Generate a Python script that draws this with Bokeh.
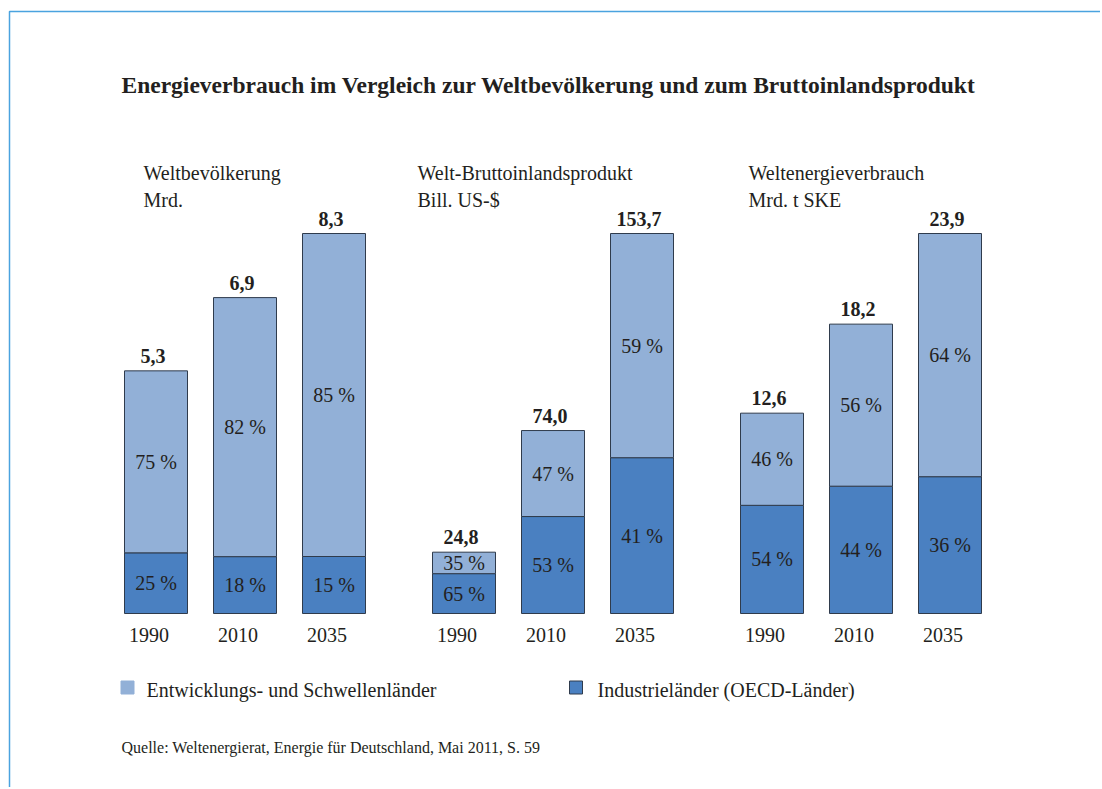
from bokeh.plotting import figure
from bokeh.models import Range1d, ColumnDataSource
from bokeh.core.properties import value
from bokeh.embed import file_html
from bokeh.resources import INLINE

# ---------------- data ----------------
title_text = "Energieverbrauch im Vergleich zur Weltbevölkerung und zum Bruttoinlandsprodukt"
years = ["1990", "2010", "2035"]
panel_titles = ["Weltbevölkerung", "Welt-Bruttoinlandsprodukt", "Weltenergieverbrauch"]
panel_units = ["Mrd.", "Bill. US-$", "Mrd. t SKE"]
totals_pop = [5.3, 6.9, 8.3]
totals_gdp = [24.8, 74.0, 153.7]
totals_energy = [12.6, 18.2, 23.9]
oecd_pop = [25, 18, 15]
oecd_gdp = [65, 53, 41]
oecd_energy = [54, 44, 36]
dev_pop = [75, 82, 85]
dev_gdp = [35, 47, 59]
dev_energy = [46, 56, 64]
legend_labels = ["Entwicklungs- und Schwellenländer", "Industrieländer (OECD-Länder)"]
source_text = "Quelle: Weltenergierat, Energie für Deutschland, Mai 2011, S. 59"

# ---------------- style / layout ----------------
W, H = 1100, 787
LIGHT = "#92b0d7"
DARK = "#4a80c1"
EDGE = "#2f3b4c"
TXT = "#231f20"
FRAME = "#4aa3df"
FONT = value("Liberation Serif")
BASE_Y = 613             # page row of the bar baseline
BAR_MAX_PX = 380         # height of the tallest bar in each panel
BAR_W = 63
first_centers = [155.5, 463.5, 771.5]
step = 89
title_x = [143, 417, 748]


def fy(img_y):
    # page pixel row -> main y-range value
    return H - img_y


p = figure(width=W, height=H, output_backend="svg", toolbar_location=None,
           x_range=Range1d(0, W), y_range=Range1d(0, H), min_border=0,
           x_axis_location=None, y_axis_location=None)
p.grid.visible = False
p.outline_line_color = None
p.background_fill_color = "white"
p.border_fill_color = "white"

# frame lines (left + top)
p.line(x=[9, 9, W], y=[0, fy(11), fy(11)], line_color=FRAME, line_width=1.5)

# title
p.text(x=[121], y=[fy(84)], text=[title_text], text_font=FONT, text_font_size="23.5px",
       text_font_style="bold", text_color=TXT, text_baseline="middle", text_align="left")

panels = [
    (totals_pop, oecd_pop, dev_pop),
    (totals_gdp, oecd_gdp, dev_gdp),
    (totals_energy, oecd_energy, dev_energy),
]

base_from_bottom = H - BASE_Y
for k, (tot, oecd, dev) in enumerate(panels):
    m = max(tot)
    span = m * H / BAR_MAX_PX
    start = -base_from_bottom * m / BAR_MAX_PX
    name = f"panel{k}"
    p.extra_y_ranges[name] = Range1d(start, start + span)

    xs = [first_centers[k] + i * step for i in range(len(years))]
    mid = [t * o / 100 for t, o in zip(tot, oecd)]
    src = ColumnDataSource(dict(
        x=xs,
        x_year=[x - 7 for x in xs],
        x_tot=[x - 3 for x in xs],
        zero=[0] * len(xs),
        mid=mid,
        top=tot,
        mid_dark=[v / 2 for v in mid],
        mid_light=[(a + b) / 2 for a, b in zip(mid, tot)],
        lab_dark=[f"{o} %" for o in oecd],
        lab_light=[f"{d} %" for d in dev],
        lab_tot=[f"{t:.1f}".replace(".", ",") for t in tot],
        year=years,
        y_year=[fy(634)] * len(xs),
    ))

    p.vbar(x="x", width=BAR_W, bottom="zero", top="mid", source=src, y_range_name=name,
           fill_color=DARK, line_color=EDGE, line_width=1)
    p.vbar(x="x", width=BAR_W, bottom="mid", top="top", source=src, y_range_name=name,
           fill_color=LIGHT, line_color=EDGE, line_width=1)

    p.text(x="x", y="mid_dark", text="lab_dark", source=src, y_range_name=name,
           text_font=FONT, text_font_size="20px", text_color=TXT,
           text_align="center", text_baseline="middle")
    p.text(x="x", y="mid_light", text="lab_light", source=src, y_range_name=name,
           text_font=FONT, text_font_size="20px", text_color=TXT,
           text_align="center", text_baseline="middle")
    p.text(x="x_tot", y="top", text="lab_tot", source=src, y_range_name=name,
           text_font=FONT, text_font_size="20px", text_font_style="bold", text_color=TXT,
           text_align="center", text_baseline="middle", y_offset=-15)
    p.text(x="x_year", y="y_year", text="year", source=src,
           text_font=FONT, text_font_size="20px", text_color=TXT,
           text_align="center", text_baseline="middle")

    # panel heading
    p.text(x=[title_x[k]] * 2, y=[fy(172), fy(199)], text=[panel_titles[k], panel_units[k]],
           text_font=FONT, text_font_size="20px", text_color=TXT,
           text_align="left", text_baseline="middle")

# legend
p.scatter(x=[127, 575.5], y=[fy(687)] * 2, marker="square", size=13,
          fill_color=[LIGHT, DARK], line_color=[LIGHT, EDGE], line_width=1)
p.text(x=[146, 597], y=[fy(689)] * 2, text=legend_labels, text_font=FONT,
       text_font_size="20px", text_color=TXT, text_align="left", text_baseline="middle")

# source
p.text(x=[121], y=[fy(747)], text=[source_text], text_font=FONT, text_font_size="16px",
       text_color=TXT, text_align="left", text_baseline="middle")

open("out.html", "w").write(file_html(p, INLINE))
